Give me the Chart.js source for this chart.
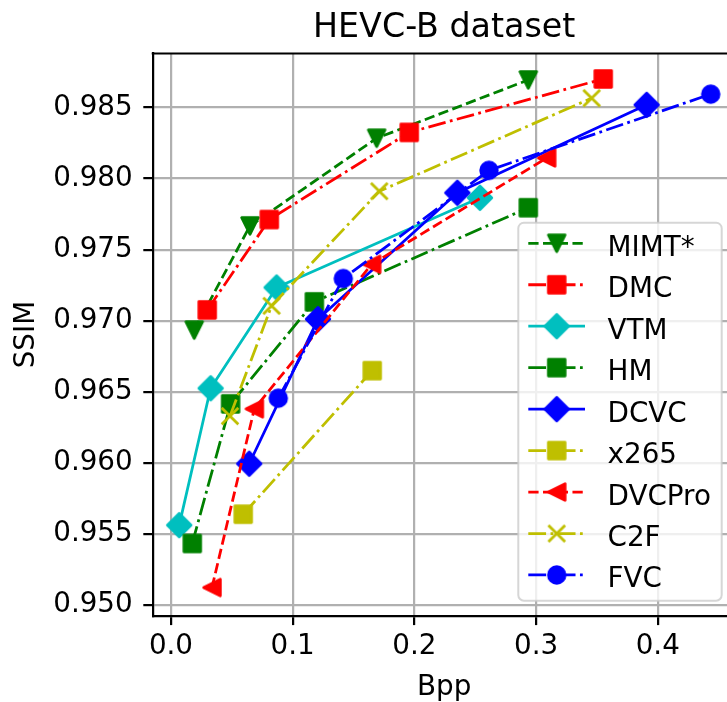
<!DOCTYPE html>
<html>
<head>
<meta charset="utf-8">
<script src="https://cdn.jsdelivr.net/npm/chart.js@4.4.0/dist/chart.umd.min.js"></script>
<style>
    html, body { margin: 0; padding: 0; background: #fff; }
    canvas { display: block; }
</style>
</head>
<body>
<canvas id="rdChart" width="727" height="702"></canvas>
<script>
// Rate-distortion points (bpp, SSIM)
const seriesNames = ['MIMT*', 'DMC', 'VTM', 'HM', 'DCVC', 'x265', 'DVCPro', 'C2F', 'FVC'];

const mimtBpp = [0.0191, 0.0649, 0.1690, 0.2936];
const mimtSsim = [0.96934, 0.97667, 0.98284, 0.98694];

const dmcBpp = [0.0298, 0.0808, 0.1958, 0.3552];
const dmcSsim = [0.97076, 0.97712, 0.98325, 0.98701];

const vtmBpp = [0.0068, 0.0326, 0.0868, 0.2539];
const vtmSsim = [0.95562, 0.96525, 0.97234, 0.97865];

const hmBpp = [0.0175, 0.0490, 0.1178, 0.2936];
const hmSsim = [0.95433, 0.96415, 0.97133, 0.97795];

const dcvcBpp = [0.0643, 0.1208, 0.2353, 0.3909];
const dcvcSsim = [0.95994, 0.97011, 0.97900, 0.98519];

const x265Bpp = [0.0594, 0.1654];
const x265Ssim = [0.95639, 0.96649];

const dvcproBpp = [0.0337, 0.0685, 0.1649, 0.3087];
const dvcproSsim = [0.95123, 0.96380, 0.97397, 0.98145];

const c2fBpp = [0.0485, 0.0827, 0.1712, 0.3457];
const c2fSsim = [0.96329, 0.97105, 0.97911, 0.98566];

const fvcBpp = [0.0882, 0.1416, 0.2613, 0.4435];
const fvcSsim = [0.96455, 0.97297, 0.98058, 0.98594];

const xTickStep = 0.1;
const yTickStep = 0.005;

// matplotlib-like sizes (figure was saved at 200 dpi)
const PT = 200 / 72;
const LW = 1.0 * PT;
const DASHED = [3.7 * LW, 1.6 * LW];
const DASHDOT = [6.4 * LW, 1.6 * LW, 1.0 * LW, 1.6 * LW];
const SOLID = [];
const OVERHANG = 8.6; // the original axes box runs past the right edge of the image

function makeMarker(kind, color) {
    const s = 32, h = s / 2, m = 3 * PT; // half of markersize 6pt
    const c = document.createElement('canvas');
    c.width = s;
    c.height = s;
    const g = c.getContext('2d');
    g.fillStyle = color;
    g.strokeStyle = color;
    g.lineWidth = LW;
    g.lineJoin = 'round';
    g.beginPath();
    if (kind === 'square') {
        g.rect(h - m, h - m, 2 * m, 2 * m);
    } else if (kind === 'diamond') {
        const d = m * Math.SQRT2;
        g.moveTo(h, h - d); g.lineTo(h + d, h); g.lineTo(h, h + d); g.lineTo(h - d, h); g.closePath();
    } else if (kind === 'circle') {
        g.arc(h, h, m, 0, Math.PI * 2);
    } else if (kind === 'triDown') {
        g.moveTo(h - m, h - m); g.lineTo(h + m, h - m); g.lineTo(h, h + m); g.closePath();
    } else if (kind === 'triLeft') {
        g.moveTo(h - m, h); g.lineTo(h + m, h - m); g.lineTo(h + m, h + m); g.closePath();
    } else if (kind === 'x') {
        g.lineCap = 'butt';
        g.moveTo(h - m, h - m); g.lineTo(h + m, h + m);
        g.moveTo(h + m, h - m); g.lineTo(h - m, h + m);
        g.stroke();
        return c;
    }
    g.fill();
    g.stroke();
    return c;
}

const series = [
    { xs: mimtBpp, ys: mimtSsim, color: '#008000', dash: DASHED, marker: 'triDown' },
    { xs: dmcBpp, ys: dmcSsim, color: '#ff0000', dash: DASHDOT, marker: 'square' },
    { xs: vtmBpp, ys: vtmSsim, color: '#00bfbf', dash: SOLID, marker: 'diamond' },
    { xs: hmBpp, ys: hmSsim, color: '#008000', dash: DASHDOT, marker: 'square' },
    { xs: dcvcBpp, ys: dcvcSsim, color: '#0000ff', dash: SOLID, marker: 'diamond' },
    { xs: x265Bpp, ys: x265Ssim, color: '#bfbf00', dash: DASHDOT, marker: 'square' },
    { xs: dvcproBpp, ys: dvcproSsim, color: '#ff0000', dash: DASHED, marker: 'triLeft' },
    { xs: c2fBpp, ys: c2fSsim, color: '#bfbf00', dash: DASHDOT, marker: 'x' },
    { xs: fvcBpp, ys: fvcSsim, color: '#0000ff', dash: DASHDOT, marker: 'circle' }
];

const datasets = series.map((s, i) => ({
    label: seriesNames[i],
    data: s.xs.map((x, j) => ({ x: x, y: s.ys[j] })),
    borderColor: s.color,
    backgroundColor: s.color,
    borderWidth: LW,
    borderDash: s.dash,
    borderJoinStyle: 'round',
    pointStyle: makeMarker(s.marker, s.color),
    pointRadius: 10,
    pointHoverRadius: 10,
    tension: 0,
    fill: false,
    order: series.length - i // later series on top, like matplotlib
}));

// title, x label, top spine and the legend box are drawn here
const mplExtras = {
    id: 'mplExtras',
    afterDraw(chart) {
        const ctx = chart.ctx;
        const area = chart.chartArea;
        const fullRight = area.right + OVERHANG;
        const midX = (area.left + fullRight) / 2;
        ctx.save();

        // top spine
        ctx.strokeStyle = '#000';
        ctx.lineWidth = 0.8 * PT;
        ctx.beginPath();
        ctx.moveTo(area.left - 1, area.top);
        ctx.lineTo(area.right, area.top);
        ctx.stroke();

        // title and x label
        ctx.fillStyle = '#000';
        ctx.textAlign = 'center';
        ctx.textBaseline = 'alphabetic';
        ctx.font = (12 * PT).toFixed(1) + 'px "DejaVu Sans"';
        ctx.fillText('HEVC-B dataset', midX, area.top - 16.8);
        ctx.font = (10 * PT).toFixed(1) + 'px "DejaVu Sans"';
        ctx.fillText('Bpp', midX, area.bottom + 79.5);

        // legend (lower right)
        const w = 203.4, h = 378;
        const right = fullRight - 13.9;
        const bottom = area.bottom - 15;
        const left = right - w, top = bottom - h;
        ctx.fillStyle = 'rgba(255,255,255,0.8)';
        ctx.strokeStyle = 'rgba(204,204,204,0.8)';
        ctx.lineWidth = 2;
        ctx.beginPath();
        ctx.roundRect(left, top, w, h, 5.6);
        ctx.fill();
        ctx.stroke();

        ctx.textAlign = 'left';
        chart.data.datasets.forEach((ds, i) => {
            const y = top + 20.6 + i * 41.46;
            ctx.strokeStyle = ds.borderColor;
            ctx.lineWidth = LW;
            ctx.setLineDash(ds.borderDash);
            ctx.lineCap = 'butt';
            ctx.beginPath();
            ctx.moveTo(left + 10, y);
            ctx.lineTo(left + 66.7, y);
            ctx.stroke();
            ctx.setLineDash([]);
            const mk = ds.pointStyle;
            ctx.drawImage(mk, left + 38.4 - mk.width / 2, y - mk.height / 2);
            ctx.fillStyle = '#000';
            ctx.fillText(ds.label, left + 89.2, y + 12.5);
        });
        ctx.restore();
    }
};

const tickFont = { family: 'DejaVu Sans', size: 10 * PT };

new Chart(document.getElementById('rdChart'), {
    type: 'line',
    data: { datasets: datasets },
    options: {
        responsive: false,
        animation: false,
        layout: { autoPadding: false, padding: { top: 53.5, right: 0, left: 0, bottom: 0 } },
        plugins: {
            legend: { display: false },
            title: { display: false },
            tooltip: { enabled: false }
        },
        scales: {
            x: {
                type: 'linear',
                min: -0.015,
                max: 0.4569,
                afterFit: (scale) => {
                    scale.height = 86.3;
                    scale.paddingLeft = 0;
                    scale.paddingRight = 0;
                },
                ticks: {
                    stepSize: xTickStep,
                    includeBounds: false,
                    maxRotation: 0,
                    color: '#000',
                    font: tickFont,
                    padding: 4.6,
                    callback: (v) => v.toFixed(1)
                },
                grid: { color: '#b0b0b0', lineWidth: 0.8 * PT, tickLength: 9.4, tickColor: '#000', tickWidth: 0.8 * PT },
                border: { display: true, color: '#000', width: 0.8 * PT }
            },
            y: {
                type: 'linear',
                min: 0.94925,
                max: 0.9888,
                afterFit: (scale) => {
                    scale.width = 152.7;
                    scale.paddingTop = 0;
                    scale.paddingBottom = 0;
                },
                ticks: {
                    stepSize: yTickStep,
                    includeBounds: false,
                    color: '#000',
                    font: tickFont,
                    padding: 10.6,
                    callback: (v) => v.toFixed(3)
                },
                grid: { color: '#b0b0b0', lineWidth: 0.8 * PT, tickLength: 9.4, tickColor: '#000', tickWidth: 0.8 * PT },
                border: { display: true, color: '#000', width: 0.8 * PT },
                title: { display: true, text: 'SSIM', color: '#000', font: tickFont, padding: { top: 9.8, bottom: 0 } }
            }
        }
    },
    plugins: [mplExtras]
});
</script>
</body>
</html>
